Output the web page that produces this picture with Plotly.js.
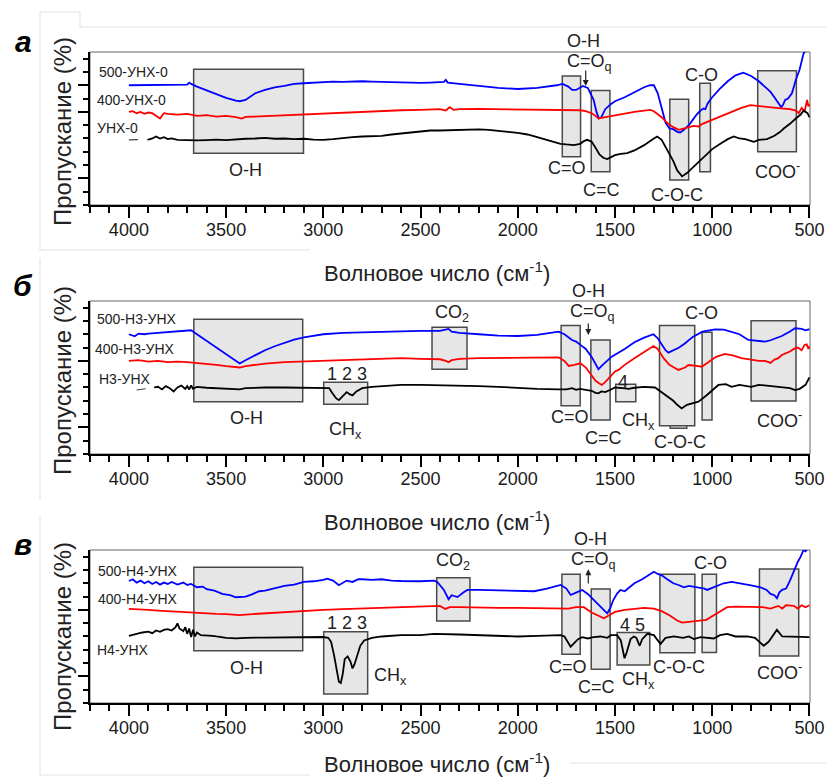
<!DOCTYPE html>
<html><head><meta charset="utf-8">
<script src="https://cdn.plot.ly/plotly-3.0.1.min.js"></script>
<style>html,body{margin:0;padding:0;background:#fff}#chart{width:826px;height:778px}</style>
</head><body><div id="chart"></div>
<script>
// ---------- DATA (wavenumber, cm^-1 ; transmittance in arbitrary offset units) ----------
// Panel а
const a500_x=[4000,3950,3900,3850,3800,3750,3700,3690,3680,3650,3600,3550,3500,3450,3430,3400,3380,3350,3300,3250,3200,3150,3100,3050,3000,2950,2900,2850,2800,2750,2700,2650,2600,2550,2500,2450,2400,2380,2370,2360,2300,2200,2100,2000,1900,1800,1770,1740,1720,1700,1680,1665,1640,1610,1595,1583,1570,1550,1520,1500,1450,1400,1350,1320,1300,1280,1260,1240,1220,1200,1180,1165,1150,1120,1100,1080,1060,1045,1035,1025,1000,960,920,880,840,800,760,720,700,680,660,645,635,625,610,590,570,550,530,515,500];
const a500_y=[9.0,9.0,9.05,9.0,9.0,9.0,9.05,9.2,9.1,8.9,8.6,8.3,8.05,7.85,7.8,7.9,8.1,8.4,8.65,8.85,8.95,9.1,9.15,9.2,9.25,9.28,9.25,9.3,9.3,9.28,9.25,9.25,9.2,9.2,9.18,9.2,9.22,9.25,9.4,9.2,9.1,8.95,8.8,8.72,8.8,9.0,9.1,8.9,8.65,8.65,8.85,8.95,8.8,7.9,7.0,6.5,6.6,7.2,7.6,7.8,8.1,8.5,8.85,9.0,9.0,8.4,7.2,6.2,5.75,5.7,5.5,5.45,5.6,6.0,6.4,6.8,7.1,7.25,7.2,7.6,8.1,8.75,9.3,9.75,9.95,9.7,9.3,8.8,8.5,8.1,7.7,7.35,7.55,7.9,8.0,8.4,9.4,10.2,11.4,11.6,11.9];
const a400_x=[4000,3980,3960,3940,3920,3900,3880,3860,3840,3820,3800,3750,3700,3650,3600,3550,3500,3450,3420,3400,3350,3300,3250,3200,3150,3100,3050,3000,2900,2800,2700,2600,2500,2400,2370,2350,2330,2300,2200,2100,2000,1900,1800,1720,1680,1650,1620,1600,1585,1570,1550,1520,1500,1450,1400,1350,1317,1300,1260,1230,1200,1172,1150,1120,1095,1070,1050,1000,958,900,850,804,760,720,680,650,632,600,570,555,540,525,512,505,500];
const a400_y=[7.0,7.05,6.9,7.0,6.85,6.95,6.9,6.7,6.5,6.9,6.85,6.8,6.85,6.7,6.75,6.65,6.7,6.6,6.5,6.62,6.65,6.7,6.75,6.78,6.82,6.85,6.85,6.9,6.95,7.0,7.05,7.12,7.15,7.2,7.1,7.35,7.15,7.2,7.22,7.2,7.22,7.2,7.18,7.15,7.12,7.05,6.9,6.7,6.5,6.55,6.6,6.7,6.78,6.9,7.0,7.1,7.15,7.05,6.6,6.15,5.85,5.65,5.75,5.85,5.95,5.9,6.1,6.4,6.65,7.0,7.3,7.5,7.45,7.4,7.35,7.3,7.25,7.2,7.1,6.9,7.3,7.0,7.9,7.4,7.6];
const a0_x=[4000,3950,3900,3880,3860,3840,3820,3800,3780,3750,3700,3650,3600,3550,3500,3450,3400,3350,3300,3250,3200,3150,3100,3050,3000,2950,2900,2850,2800,2750,2700,2650,2600,2550,2500,2450,2400,2350,2300,2250,2200,2150,2100,2050,2000,1950,1900,1850,1800,1780,1750,1711,1680,1660,1643,1620,1600,1580,1560,1540,1520,1500,1470,1437,1400,1350,1300,1283,1260,1232,1200,1180,1155,1130,1100,1060,1030,1000,958,920,889,860,830,800,786,760,718,680,650,632,600,570,545,530,520,510,500];
const a0_y=[4.9,4.9,4.92,5.0,5.15,5.0,5.1,4.95,5.0,4.9,4.88,4.85,4.88,4.92,4.88,4.95,4.98,5.0,5.05,4.98,5.0,4.95,4.98,4.92,4.9,4.95,5.05,5.1,5.15,5.18,5.2,5.3,5.38,5.42,5.55,5.6,5.6,5.62,5.68,5.7,5.68,5.65,5.6,5.5,5.42,5.3,5.1,4.9,4.72,4.6,4.55,4.5,4.6,4.8,4.9,4.75,4.3,3.8,3.55,3.45,3.6,3.75,3.85,3.9,4.1,4.5,5.0,5.15,4.9,4.2,3.3,2.6,2.15,2.4,2.8,3.35,3.8,4.2,4.6,4.95,5.15,5.0,4.95,4.85,4.75,4.9,4.95,5.2,5.5,5.75,6.1,6.5,6.8,7.1,7.0,6.9,6.6];
// Panel б
const b500_x=[4000,3970,3950,3920,3900,3850,3800,3750,3700,3680,3650,3600,3550,3500,3450,3430,3400,3350,3300,3250,3200,3150,3100,3050,3000,2900,2800,2700,2600,2500,2400,2356,2340,2300,2200,2100,2000,1900,1790,1760,1721,1700,1678,1650,1620,1600,1585,1570,1550,1517,1450,1400,1350,1302,1280,1260,1240,1225,1200,1170,1139,1100,1050,985,940,900,860,814,780,728,700,642,600,574,540,520,505,500];
const b500_y=[9.0,8.85,9.05,9.0,9.05,9.1,9.2,9.25,9.27,9.3,9.0,8.5,7.95,7.45,6.95,6.8,7.05,7.45,7.8,8.1,8.35,8.6,8.77,8.9,9.0,9.1,9.15,9.18,9.22,9.25,9.25,9.4,9.2,9.1,9.0,8.9,8.87,8.95,9.2,9.0,8.57,8.45,8.2,7.9,7.3,6.7,6.37,6.6,6.9,7.32,7.9,8.4,8.75,9.0,8.7,8.2,7.8,7.62,7.8,8.0,8.32,8.8,9.2,9.37,9.35,9.2,9.0,8.57,8.5,8.45,8.55,8.87,9.2,9.45,9.4,9.3,9.37,9.35];
const b400_x=[4000,3950,3900,3850,3800,3750,3700,3650,3600,3550,3500,3450,3430,3400,3350,3300,3200,3100,3000,2900,2800,2700,2600,2500,2400,2370,2356,2340,2300,2200,2100,2000,1900,1790,1760,1738,1710,1678,1650,1620,1600,1580,1568,1550,1520,1500,1482,1450,1400,1350,1302,1280,1250,1220,1174,1140,1122,1090,1054,1020,980,934,890,850,797,760,728,700,680,660,642,620,600,580,560,540,525,514,505,500];
const b400_y=[7.0,7.05,6.95,7.0,6.9,6.95,6.9,6.85,6.75,6.7,6.6,6.55,6.5,6.6,6.7,6.8,6.9,6.95,7.0,7.05,7.1,7.15,7.2,7.15,7.12,7.0,6.9,7.05,7.15,7.2,7.22,7.25,7.27,7.27,7.0,6.62,6.7,6.82,6.5,5.9,5.5,5.3,5.19,5.4,5.9,6.2,6.32,6.7,7.2,7.7,8.12,7.9,7.2,6.7,6.32,6.5,6.69,6.65,6.56,6.9,7.3,7.52,7.4,7.2,7.07,7.0,7.0,6.85,7.1,7.2,7.44,7.55,7.7,7.9,8.0,7.8,8.2,8.25,7.9,8.1];
const b0_x=[3960,3900,3870,3850,3830,3810,3790,3770,3750,3730,3710,3700,3690,3680,3670,3650,3600,3550,3500,3450,3430,3400,3350,3300,3200,3100,3000,2970,2955,2935,2920,2905,2880,2865,2850,2830,2800,2750,2700,2600,2500,2400,2300,2200,2100,2000,1900,1790,1750,1720,1700,1680,1650,1620,1600,1585,1570,1550,1520,1500,1460,1430,1400,1350,1294,1250,1200,1180,1157,1130,1071,1030,968,930,900,860,800,760,700,650,600,574,550,520,505,500];
const b0_y=[4.81,4.9,5.0,5.05,4.85,5.1,4.95,4.7,5.0,5.15,4.9,5.1,4.85,5.15,4.9,5.05,4.98,4.95,4.95,4.88,4.86,4.95,5.0,5.0,5.0,5.0,5.0,4.95,4.6,4.2,4.05,4.3,4.65,4.5,4.4,4.7,4.95,5.05,5.1,5.19,5.2,5.18,5.15,5.1,5.05,4.95,4.9,4.86,4.85,4.95,4.82,4.9,4.8,4.75,4.6,4.56,4.7,4.65,4.85,5.0,4.95,4.9,4.98,5.05,5.0,4.5,4.0,3.7,3.43,3.7,3.93,4.4,5.19,5.25,5.05,5.2,5.05,5.2,5.1,5.05,4.95,4.81,4.9,5.2,5.6,5.75];
// Panel в
const c500_x=[4000,3980,3960,3940,3920,3900,3880,3860,3840,3820,3800,3780,3750,3720,3700,3680,3650,3620,3600,3560,3520,3480,3450,3430,3400,3370,3330,3300,3250,3200,3150,3100,3050,3000,2980,2950,2920,2900,2880,2850,2820,2800,2750,2700,2650,2600,2500,2430,2414,2380,2356,2340,2310,2280,2259,2200,2100,2000,1916,1850,1800,1779,1750,1728,1700,1668,1640,1608,1580,1560,1540,1525,1510,1490,1472,1450,1420,1400,1360,1330,1300,1280,1260,1231,1200,1170,1146,1120,1100,1060,1040,1026,1000,970,941,900,850,800,752,720,700,680,667,655,641,620,600,573,560,545,530,520,505,500];
const c500_y=[9.17,9.3,9.05,9.2,9.0,9.15,8.95,9.1,8.9,9.05,8.95,9.1,8.9,9.05,8.87,8.95,8.7,8.75,8.55,8.45,8.2,8.1,7.95,7.95,8.0,8.15,8.4,8.45,8.65,8.8,8.9,9.1,9.15,9.25,9.35,9.2,8.85,9.05,9.2,9.1,9.3,9.3,9.25,9.3,9.2,9.17,9.15,9.2,9.1,8.5,7.8,8.1,7.96,8.3,8.5,8.5,8.45,8.4,8.4,8.6,8.8,8.87,8.6,8.12,8.3,8.5,8.2,7.74,7.3,7.0,6.74,7.1,7.7,8.2,8.5,8.4,8.8,9.0,9.3,9.6,9.87,9.7,9.6,9.3,9.0,8.85,8.7,8.8,8.75,8.7,8.6,8.5,8.65,8.85,9.0,9.1,9.0,8.85,8.7,8.5,8.2,8.1,7.87,8.3,8.5,8.6,9.2,10.25,10.6,11.0,11.5,11.4,11.7,11.6];
const c400_x=[4000,3950,3900,3850,3800,3750,3700,3650,3600,3550,3500,3450,3430,3400,3350,3300,3250,3200,3100,3000,2900,2800,2700,2600,2500,2400,2373,2350,2300,2200,2100,2000,1900,1800,1740,1700,1660,1620,1580,1557,1530,1500,1450,1400,1350,1300,1260,1220,1180,1155,1120,1060,1030,992,960,923,880,800,740,700,660,640,620,580,560,540,520,500];
const c400_y=[7.07,7.05,7.0,6.95,6.9,6.85,6.8,6.75,6.72,6.7,6.68,6.62,6.6,6.65,6.7,6.75,6.8,6.85,6.95,7.0,7.05,7.1,7.15,7.24,7.28,7.3,7.07,7.2,7.2,7.15,7.15,7.15,7.15,7.15,7.1,7.2,7.2,6.8,6.5,6.37,6.6,6.85,7.0,7.1,7.15,7.1,6.9,6.6,6.2,6.04,6.1,6.2,6.25,6.6,6.9,7.2,7.25,7.25,7.2,7.1,7.3,7.1,7.35,7.3,7.1,7.35,7.2,7.35];
const c0_x=[4000,3960,3930,3900,3880,3860,3840,3820,3800,3780,3760,3750,3740,3720,3710,3700,3690,3680,3670,3660,3650,3630,3600,3570,3550,3500,3450,3400,3300,3200,3100,3000,2975,2960,2945,2930,2920,2910,2900,2890,2875,2860,2850,2840,2825,2810,2790,2750,2700,2600,2500,2430,2300,2200,2100,2002,1900,1779,1760,1740,1728,1710,1690,1668,1640,1610,1574,1540,1520,1489,1470,1460,1451,1440,1420,1403,1390,1373,1360,1334,1300,1266,1240,1197,1150,1120,1094,1060,1020,992,960,923,880,820,780,760,735,710,690,667,640,600,581,540,500];
const c0_y=[5.04,5.2,5.3,5.36,5.25,5.45,5.35,5.5,5.55,5.45,5.7,5.99,5.6,5.4,5.7,5.2,5.6,4.95,5.5,5.0,5.3,5.1,5.1,5.05,5.0,4.9,4.86,4.9,4.92,4.95,4.96,4.96,4.9,4.6,3.6,2.5,1.6,1.5,2.2,3.3,3.5,3.1,2.6,2.9,3.6,4.3,4.7,4.9,5.0,5.1,5.1,5.2,5.15,5.1,5.05,5.0,5.05,5.1,5.0,4.5,4.23,4.5,4.8,4.95,4.85,4.95,5.0,4.9,5.1,5.1,4.7,4.0,3.36,3.8,4.8,5.0,4.9,4.3,4.8,5.2,5.1,4.44,4.9,5.0,4.9,5.0,4.8,4.95,4.9,4.85,5.1,5.2,5.0,5.0,4.9,4.6,4.3,4.6,5.0,5.5,5.0,5.0,4.95,4.95,4.95];
// band regions [wn_left, wn_right, y_low, y_high]
const boxesA=[[3667,3102,3.89,10.2],[1771,1677,3.63,9.7],[1622,1526,2.5,8.6],[1218,1121,1.88,7.95],[1064,1009,2.5,9.15],[766,567,4.0,10.1]];
const boxesB=[[3666,3106,3.93,10.13],[2998,2772,3.74,5.39],[2441,2261,6.37,9.52],[1777,1679,3.63,9.65],[1624,1525,2.56,8.57],[1496,1393,3.93,5.24],[1271,1090,2.13,9.65],[1216,1131,1.93,2.13],[1052,1001,2.56,9.15],[800,569,3.98,10.02]];
const boxesC=[[3666,3106,3.93,10.2],[2998,2772,0.68,5.36],[2417,2246,6.17,9.42],[1773,1679,3.66,9.67],[1622,1525,2.53,8.57],[1489,1321,2.86,5.29],[1269,1089,3.78,9.67],[1052,978,3.8,9.67],[757,555,3.53,10.08]];
const seriesNames=[["500-УНХ-0","400-УНХ-0","УНХ-0"],["500-Н3-УНХ","400-Н3-УНХ","Н3-УНХ"],["500-Н4-УНХ","400-Н4-УНХ","Н4-УНХ"]];
const xTitle="Волновое число (см<sup>-1</sup>)";
const yTitle="Пропускание (%)";
const panelLetters=["а","б","в"];

// ---------- LAYOUT ----------
const W=826,H=778,FONT="Liberation Sans, Arial, sans-serif";
const px=x=>x/W, py=y=>1-y/H;
const panels=[{top:52,bot:205},{top:301,bot:454},{top:550,bot:703}];
const colors=["#0000ff","#ff0000","#000000"];
const data=[
 [[a500_x,a500_y],[a400_x,a400_y],[a0_x,a0_y]],
 [[b500_x,b500_y],[b400_x,b400_y],[b0_x,b0_y]],
 [[c500_x,c500_y],[c400_x,c400_y],[c0_x,c0_y]]
];
const dashStart=[3880,3860,null];
const traces=[];
data.forEach((set,p)=>{
  const sfx=p===0?"":String(p+1);
  set.forEach((s,i)=>{
    let xs=s[0],ys=s[1];
    if(i===2 && dashStart[p]){
      const dx=[],dy=[],sx=[],sy=[];
      xs.forEach((v,k)=>{ if(v>=dashStart[p]){dx.push(v);dy.push(ys[k]);} if(v<=dashStart[p]+20){sx.push(v);sy.push(ys[k]);} });
      traces.push({x:dx,y:dy,xaxis:"x"+sfx,yaxis:"y"+sfx,mode:"lines",line:{color:"#444",width:1.2,dash:"dash"},hoverinfo:"skip",showlegend:false});
      xs=sx;ys=sy;
    }
    traces.push({x:xs,y:ys,xaxis:"x"+sfx,yaxis:"y"+sfx,mode:"lines",line:{color:colors[i],width:1.8},name:seriesNames[p][i],showlegend:false});
  });
});

const layout={width:W,height:H,margin:{l:0,r:0,t:0,b:0},paper_bgcolor:"#fff",plot_bgcolor:"rgba(0,0,0,0)",
  font:{family:FONT,color:"#222"},showlegend:false,shapes:[],annotations:[]};
panels.forEach((pn,p)=>{
  const sfx=p===0?"":String(p+1);
  layout["xaxis"+sfx]={domain:[px(90),px(810)],range:[4200,497],anchor:"y"+sfx,showline:true,linecolor:"#000",linewidth:2,
    ticks:"outside",ticklen:11,tickwidth:2,tickcolor:"#000",tickmode:"linear",tick0:500,dtick:500,
    minor:{ticks:"outside",ticklen:6,tickwidth:2,tickcolor:"#000",dtick:100,tick0:0,showgrid:false},
    tickfont:{size:18,family:FONT,color:"#1a1a1a"},ticklabelstandoff:-4,showgrid:false,zeroline:false,fixedrange:true};
  layout["yaxis"+sfx]={domain:[py(pn.bot),py(pn.top)],range:[0,11.5],anchor:"x"+sfx,showline:true,linecolor:"#000",linewidth:2,
    ticks:"outside",ticklen:10,tickwidth:2,tickcolor:"#000",tickmode:"array",tickvals:p===0?[2,7,9]:[2,7],showticklabels:false,
    minor:{ticks:"outside",ticklen:5,tickwidth:2,tickcolor:"#000",dtick:1,tick0:0,showgrid:false},
    showgrid:false,zeroline:false,fixedrange:true};
  layout.shapes.push({type:"rect",xref:"x"+sfx+" domain",yref:"y"+sfx+" domain",x0:0,x1:1,y0:0,y1:1,line:{color:"#666",width:1},layer:"below"});
  const bx=[boxesA,boxesB,boxesC][p];
  bx.forEach(b=>layout.shapes.push({type:"rect",xref:"x"+sfx,yref:"y"+sfx,x0:b[0],x1:b[1],y0:b[2],y1:b[3],
    fillcolor:"#e6e6e6",line:{color:"#4a4a4a",width:1.5},layer:"below"}));
});
const faint={color:"#e4e4e4",width:1.2};
layout.shapes.push({type:"path",xref:"paper",yref:"paper",path:`M ${px(826)} ${py(27)} L ${px(80)} ${py(27)} L ${px(80)} ${py(12)} L ${px(40)} ${py(12)} L ${px(40)} ${py(250)} L ${px(310)} ${py(250)}`,line:faint,layer:"below"});
layout.shapes.push({type:"line",xref:"paper",yref:"paper",x0:px(40),x1:px(40),y0:py(258),y1:py(500),line:faint,layer:"below"});
layout.shapes.push({type:"path",xref:"paper",yref:"paper",path:`M ${px(40)} ${py(517)} L ${px(40)} ${py(775)} L ${px(310)} ${py(775)}`,line:faint,layer:"below"});
layout.shapes.push({type:"line",xref:"paper",yref:"paper",x0:px(570),x1:px(826),y0:py(763),y1:py(763),line:faint,layer:"below"});

function T(x,y,text,size,extra){layout.annotations.push(Object.assign({xref:"paper",yref:"paper",x:px(x),y:py(y),text:text,showarrow:false,xanchor:"center",yanchor:"middle",font:{size:size,family:FONT,color:"#222"}},extra||{}));}
function ARR(x,yHead,yTail){layout.annotations.push({xref:"paper",yref:"paper",x:px(x),y:py(yHead),ax:0,ay:yTail-yHead,text:"",showarrow:true,arrowhead:2,arrowsize:1,arrowwidth:1.2,arrowcolor:"#222"});}

[[272,132,41],[521,381,285],[763,637,544]].forEach((v,p)=>{
  T(437,v[0],xTitle,22);
  T(62,v[1],yTitle,24,{textangle:-90});
  T(23,v[2],"<b><i>"+panelLetters[p]+"</i></b>",30,{font:{size:30,family:FONT,color:"#000"}});
});
T(133,71.7,seriesNames[0][0],14);T(131,100,seriesNames[0][1],14);T(117.5,127.7,seriesNames[0][2],14);
T(136.7,319.3,seriesNames[1][0],14);T(135,349.3,seriesNames[1][1],14);T(125,379.3,seriesNames[1][2],14);
T(137.7,570.7,seriesNames[2][0],14);T(137.7,599.3,seriesNames[2][1],14);T(123.3,650,seriesNames[2][2],14);
T(245,170,"O-H",18);
T(583.3,41,"O-H",18);T(589,63,"C=O<sub>q</sub>",18);ARR(585.7,86,69);
T(566.7,168.3,"C=O",18);T(601.7,190,"C=C",18);T(677.3,195,"C-O-C",18);T(701.7,75,"C-O",18);T(777,170,"COO<sup>-</sup>",18);
T(246.7,418.3,"O-H",18);T(346.7,374.3,"1 2 3",18);T(345,430,"CH<sub>x</sub>",18);
T(452,313.3,"CO<sub>2</sub>",18);
T(588.3,291,"O-H",18);T(592,312,"C=O<sub>q</sub>",18);ARR(588.3,335,322);
T(570,417.3,"C=O",18);T(603.3,438.3,"C=C",18);T(622.7,381.7,"4",18);T(638,421.7,"CH<sub>x</sub>",18);
T(680,441.7,"C-O-C",18);T(701.7,312.7,"C-O",18);T(779,419.3,"COO<sup>-</sup>",18);
T(246.7,667.7,"O-H",18);T(346.7,622.7,"1 2 3",18);T(390,676.7,"CH<sub>x</sub>",18);
T(453,561.7,"CO<sub>2</sub>",18);
T(590,539,"O-H",18);T(593.5,560,"C=O<sub>q</sub>",18);ARR(588.3,569.3,585);
T(568.3,666.7,"C=O",18);T(596.7,686.7,"C=C",18);T(632.7,625,"4 5",18);T(638,680,"CH<sub>x</sub>",18);
T(679.3,667.3,"C-O-C",18);T(710.7,563.3,"C-O",18);T(779,671.7,"COO<sup>-</sup>",18);

Plotly.newPlot("chart",traces,layout,{staticPlot:true,displayModeBar:false});
</script></body></html>
